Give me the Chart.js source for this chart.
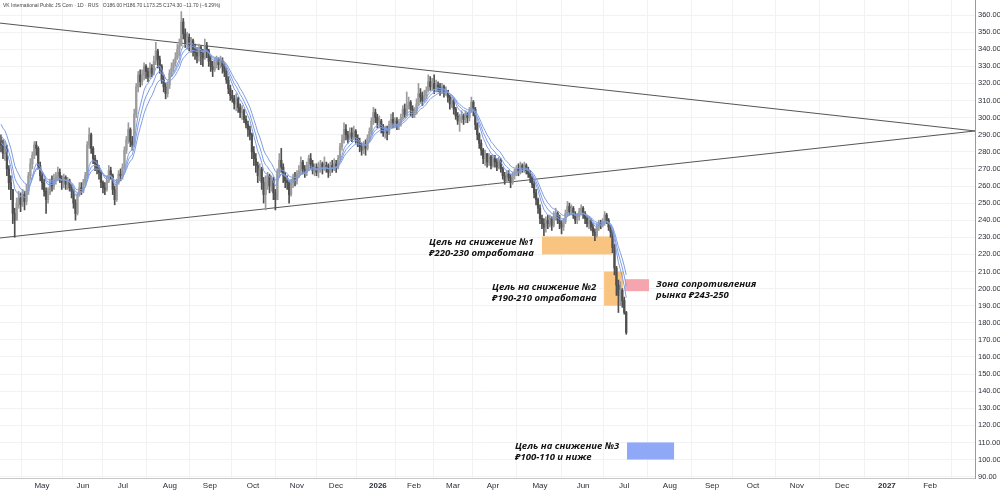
<!DOCTYPE html>
<html>
<head>
<meta charset="utf-8">
<script src="https://cdn.jsdelivr.net/npm/chart.js@4.4.1/dist/chart.umd.min.js"></script>
<style>
html, body { margin: 0; padding: 0; background: #fff; }
#wrap { width: 1000px; height: 492px; position: relative; }
</style>
</head>
<body>
<div id="wrap"><canvas id="myChart"></canvas></div>
<script>
// daily bars, index 0 = first visible bar (late Apr 2025)
var firstOpen = 286;
var closes = [
  284,279,283,270,262,258,244,240,250,253,
  249,255,251,257,266,273,278,284,282,272,
  266,262,257,252,256,262,260,264,266,268,
  264,262,265,261,263,259,257,250,244,255,
  259,257,262,266,284,290,282,276,273,270,
  268,262,259,258,263,269,266,258,252,262,
  267,266,271,281,287,293,286,284,302,318,
  325,321,325,330,327,324,329,326,333,339,
  334,330,322,318,314,319,326,329,332,335,
  340,342,356,349,344,347,343,345,340,338,
  336,341,338,335,342,339,333,330,328,332,
  334,331,333,330,327,322,317,313,311,308,
  311,306,303,304,299,296,293,290,280,276,
  272,266,270,262,255,262,266,260,264,256,
  252,268,275,271,266,263,262,255,262,265,
  263,267,269,274,270,268,272,276,273,269,
  271,268,270,273,270,272,271,268,272,270,
  273,271,276,283,287,293,290,288,291,289,
  292,288,286,283,281,284,282,288,292,298,
  303,300,297,298,294,291,293,291,296,299,
  297,298,295,297,300,305,302,307,309,305,
  302,304,308,314,312,310,313,316,321,318,
  320,317,319,318,316,318,315,316,312,308,
  310,305,301,298,300,301,299,302,300,304,
  309,305,296,290,285,281,276,279,274,277,
  272,276,274,271,275,270,266,263,267,265,
  262,266,268,270,268,272,270,272,269,267,
  265,261,256,252,247,241,238,236,240,238,
  241,237,242,244,240,238,236,239,244,248,
  245,247,243,240,242,245,247,244,241,238,
  240,236,233,231,236,238,237,239,243,240,
  236,233,224,212,202,196,199,193,186,174.3
];
var highs = [
  290,287,286,284,272,266,258,247,253,257,
  256,258,257,261,268,276,280,286,286,283,
  274,268,264,259,259,264,266,267,268,271,
  270,266,267,266,265,264,261,258,252,256,
  262,262,264,268,286,294,291,283,278,275,
  272,269,263,262,266,272,271,267,260,264,
  269,270,273,283,289,297,294,289,305,320,
  327,328,328,332,331,329,332,331,336,344,
  340,336,331,325,320,321,328,332,334,338,
  343,346,362,358,352,350,349,347,346,343,
  341,343,342,340,346,344,340,336,333,335,
  336,335,336,335,332,329,324,319,316,313,
  314,312,308,307,305,301,298,295,291,283,
  279,274,273,271,265,266,268,267,266,265,
  258,270,279,282,273,268,266,263,264,267,
  268,269,272,277,275,272,274,278,279,275,
  273,273,274,275,274,277,274,273,274,275,
  276,275,278,285,290,297,296,292,294,294,
  295,293,290,288,285,286,287,290,294,300,
  306,305,302,301,299,296,295,295,298,302,
  303,300,300,299,302,307,308,315,312,310,
  307,306,311,320,317,315,316,318,325,324,
  323,325,322,321,320,320,319,318,316,313,
  312,311,306,303,302,304,302,304,303,306,
  312,310,306,297,291,287,282,281,279,279,
  278,278,278,276,277,276,271,268,269,269,
  267,268,270,272,273,274,273,274,273,271,
  269,266,263,258,253,249,243,241,242,243,
  243,242,245,247,245,243,240,241,246,251,
  250,249,248,245,244,247,249,248,245,243,
  242,241,238,235,238,240,240,241,245,244,
  241,237,234,226,213,205,204,200,195,186.7
];
var lows = [
  280,276,275,266,258,252,238,230,240,247,
  245,248,246,249,255,264,270,276,278,270,
  263,258,254,244,250,255,257,258,261,263,
  262,258,259,258,258,257,253,247,240,243,
  254,255,256,260,265,282,279,273,269,267,
  264,259,256,255,257,262,264,255,249,251,
  261,263,264,270,279,285,283,281,283,300,
  315,318,319,322,323,321,323,324,325,331,
  329,326,320,315,311,312,317,324,327,330,
  334,336,342,346,341,340,339,338,336,334,
  332,333,331,330,334,335,330,327,324,327,
  329,328,329,326,324,320,314,310,309,305,
  304,303,300,299,297,294,289,287,276,272,
  268,262,263,258,250,246,258,256,257,252,
  246,252,265,268,262,259,258,250,254,259,
  260,261,265,267,267,265,266,269,270,267,
  266,266,265,268,267,269,268,265,266,268,
  269,268,270,275,281,285,287,285,287,286,
  287,285,283,280,278,279,278,281,286,290,
  296,297,294,294,291,289,288,287,290,294,
  294,294,293,293,295,299,300,301,305,301,
  300,300,302,307,309,307,309,311,315,316,
  316,314,315,315,313,314,312,313,309,305,
  306,302,299,296,292,297,296,297,297,298,
  303,301,293,287,282,278,273,272,271,272,
  270,271,271,269,270,268,264,261,262,263,
  259,261,264,266,266,267,268,268,267,265,
  262,259,253,249,244,238,235,231,233,235,
  236,234,236,240,238,235,232,234,238,242,
  243,243,241,238,238,240,243,241,238,236,
  235,234,231,228,230,234,235,236,237,238,
  234,230,221,208,196,186,190,189,185,173.25
];

// moving averages (EMA lengths) and their level at the left edge
var maLengths = [7, 10, 14];
var maStart = [286, 291, 298];

var monthLabels = ['May','Jun','Jul','Aug','Sep','Oct','Nov','Dec','2026','Feb','Mar','Apr',
                   'May','Jun','Jul','Aug','Sep','Oct','Nov','Dec','2027','Feb'];
var monthBars = [20.9,41.8,62.2,86.2,106.6,128.6,151,170.9,192.3,210.7,230.6,251,
                 275,297,317.9,341.3,362.8,383.7,406.1,429.1,452,474];
var priceTicks = [90,100,110,120,130,140,150,160,170,180,190,200,210,220,230,240,250,
                  260,270,280,290,300,310,320,330,340,350,360];

// triangle drawn on the chart
var upperTrend = [{x: -0.51, y: 355.3}, {x: 496.94, y: 292.2}];
var lowerTrend = [{x: -0.51, y: 229.6}, {x: 496.94, y: 292.2}];

var zones = [
  {x1: 276, x2: 312.2, lo: 220, hi: 230.5, color: '#f8c47f'},
  {x1: 307.7, x2: 317.3, lo: 190, hi: 210, color: '#f8c47f'},
  {x1: 318.4, x2: 330.6, lo: 198.5, hi: 205.5, color: '#f4a5ae'},
  {x1: 319.4, x2: 343.4, lo: 100, hi: 110, color: '#8fa9f6'}
];
var notes = [
  {x: 218.4, y: 227.3, lines: ['Цель на снижение №1', '₽220-230 отработана']},
  {x: 250.5, y: 200.9, lines: ['Цель на снижение №2', '₽190-210 отработана']},
  {x: 334.2, y: 202.7, lines: ['Зона сопротивления', 'рынка ₽243-250']},
  {x: 262.2, y: 108, lines: ['Цель на снижение №3', '₽100-110 и ниже']}
];
var header = 'VK International Public JS Com · 1D · RUS   O186.00 H186.70 L173.25 C174.30 −11.70 (−6.29%)';

var upColor = '#9c9c9c';
var downColor = '#4f4f4f';
var maColor = '#7f9de3';

var opens = closes.map(function (c, i) { return i === 0 ? firstOpen : closes[i - 1]; });
var candleColors = closes.map(function (c, i) { return c >= opens[i] ? upColor : downColor; });

function ema(len, start) {
  var k = 2 / (len + 1), e = start;
  return closes.map(function (c, i) { e = e + k * (c - e); return {x: i, y: e}; });
}

var annotations = {
  id: 'annotations',
  beforeDatasetsDraw: function (chart) {
    var ctx = chart.ctx, xs = chart.scales.x, ys = chart.scales.y;
    ctx.save();
    zones.forEach(function (z) {
      var l = xs.getPixelForValue(z.x1), r = xs.getPixelForValue(z.x2);
      var t = ys.getPixelForValue(z.hi), b = ys.getPixelForValue(z.lo);
      ctx.fillStyle = z.color;
      ctx.fillRect(l, t, r - l, b - t);
    });
    ctx.restore();
  },
  afterDraw: function (chart) {
    var ctx = chart.ctx, xs = chart.scales.x, ys = chart.scales.y;
    ctx.save();
    ctx.fillStyle = '#111';
    ctx.textBaseline = 'middle';
    ctx.font = 'italic bold 9.5px "Open Sans", "Noto Sans", sans-serif';
    notes.forEach(function (n) {
      var px = xs.getPixelForValue(n.x), py = ys.getPixelForValue(n.y);
      n.lines.forEach(function (s, k) { ctx.fillText(s, px, py + k * 11); });
    });
    ctx.font = '5px "Liberation Sans", Arial, sans-serif';
    ctx.fillStyle = '#444';
    ctx.fillText(header, 3, 6);
    ctx.restore();
  }
};

var ctx = document.getElementById('myChart').getContext('2d');
var myChart = new Chart(ctx, {
  type: 'bar',
  data: {
    datasets: [
      {
        type: 'line', data: upperTrend, borderColor: '#555', borderWidth: 1,
        pointRadius: 0, order: 10
      },
      {
        type: 'line', data: lowerTrend, borderColor: '#555', borderWidth: 1,
        pointRadius: 0, order: 10
      },
      {
        // wicks
        data: closes.map(function (c, i) { return {x: i, y: [lows[i], highs[i]]}; }),
        backgroundColor: candleColors, barThickness: 1, grouped: false, order: 4
      },
      {
        // bodies
        data: closes.map(function (c, i) {
          var o = opens[i];
          return {x: i, y: [o, c === o ? o + 0.4 : c]};
        }),
        backgroundColor: candleColors, barThickness: 1.6, grouped: false, order: 3
      },
      {
        type: 'line', data: ema(maLengths[0], maStart[0]), borderColor: maColor,
        borderWidth: 1, pointRadius: 0, order: 1
      },
      {
        type: 'line', data: ema(maLengths[1], maStart[1]), borderColor: maColor,
        borderWidth: 1, pointRadius: 0, order: 1
      },
      {
        type: 'line', data: ema(maLengths[2], maStart[2]), borderColor: maColor,
        borderWidth: 1, pointRadius: 0, order: 1
      }
    ]
  },
  options: {
    responsive: true,
    maintainAspectRatio: false,
    animation: false,
    layout: { padding: 0 },
    plugins: {
      legend: { display: false },
      tooltip: { enabled: false }
    },
    scales: {
      x: {
        type: 'linear',
        offset: false,
        min: -0.51,
        max: 496.94,
        afterBuildTicks: function (scale) {
          scale.ticks = monthBars.map(function (v) { return {value: v}; });
        },
        afterFit: function (scale) {
          scale.height = 14;
          scale.paddingLeft = 0; scale.paddingRight = 0;
        },
        ticks: {
          autoSkip: false,
          maxRotation: 0,
          padding: 3,
          color: '#2a2e39',
          font: function (c) {
            var lbl = monthLabels[c.index] || '';
            return {size: 8, family: '"Liberation Sans", Arial, sans-serif',
                    weight: /^\d{4}$/.test(lbl) ? 'bold' : 'normal'};
          },
          callback: function (v, i) { return monthLabels[i]; }
        },
        grid: { color: '#f1f2f4', drawTicks: false },
        border: { color: '#c8c8c8' }
      },
      y: {
        position: 'right',
        min: 89.2,
        max: 368.8,
        afterBuildTicks: function (scale) {
          scale.ticks = priceTicks.map(function (v) { return {value: v}; });
        },
        afterFit: function (scale) {
          scale.width = 25;
          scale.paddingTop = 0; scale.paddingBottom = 0;
        },
        ticks: {
          padding: 3,
          color: '#2a2e39',
          font: {size: 7.5, family: '"Liberation Sans", Arial, sans-serif'},
          callback: function (v) { return Number(v).toFixed(2); }
        },
        grid: { color: '#f1f2f4', drawTicks: false },
        border: { color: '#9a9a9a' }
      }
    }
  },
  plugins: [annotations]
});
</script>
</body>
</html>
